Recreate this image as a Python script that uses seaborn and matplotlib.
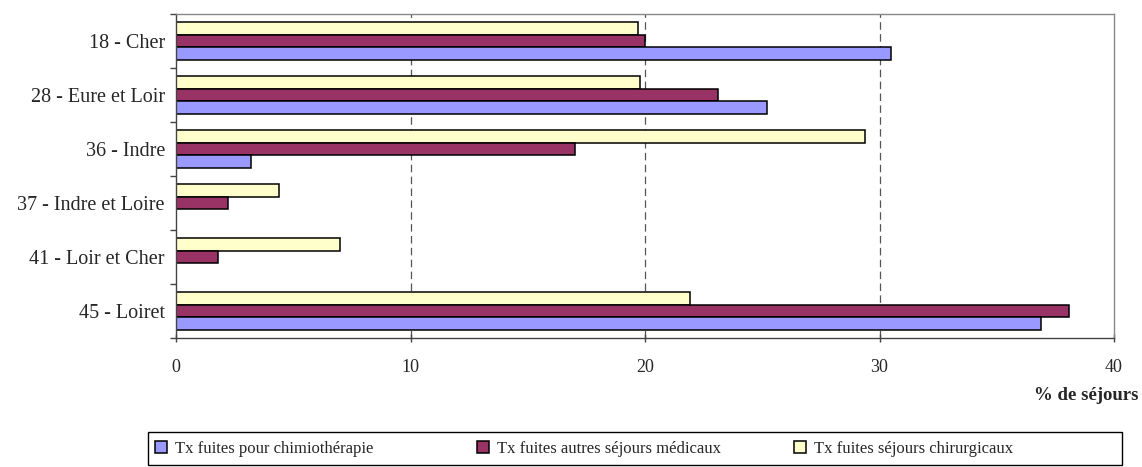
import pandas as pd
import matplotlib
matplotlib.use("Agg")
import matplotlib.pyplot as plt
from matplotlib.patches import Rectangle
import seaborn as sns

# Data
departements = ["18 - Cher", "28 - Eure et Loir", "36 - Indre",
                "37 - Indre et Loire", "41 - Loir et Cher", "45 - Loiret"]
chimio = [30.5, 25.2, 3.2, 0.0, 0.0, 36.9]
autres_medicaux = [20.0, 23.1, 17.0, 2.2, 1.8, 38.1]
chirurgicaux = [19.7, 19.8, 29.4, 4.4, 7.0, 21.9]

series_names = ["Tx fuites pour chimiothérapie",
                "Tx fuites autres séjours médicaux",
                "Tx fuites séjours chirurgicaux"]
colors = {series_names[0]: "#9999FF",
          series_names[1]: "#993366",
          series_names[2]: "#FFFFCC"}

df = pd.DataFrame({
    "dep": departements * 3,
    "serie": [series_names[0]] * 6 + [series_names[1]] * 6 + [series_names[2]] * 6,
    "val": chimio + autres_medicaux + chirurgicaux,
})

sns.set_style("white")
plt.rcParams["font.family"] = ["Liberation Serif", "DejaVu Serif"]

W, H = 1142, 467
fig = plt.figure(figsize=(W / 100, H / 100), dpi=100)
ax = fig.add_axes([176 / W, 1 - 338 / H, (1114 - 176) / W, (338 - 14) / H])

# first hue is drawn on top of each group -> chirurgicaux first
hue_order = [series_names[2], series_names[1], series_names[0]]
sns.barplot(data=df, y="dep", x="val", hue="serie", hue_order=hue_order,
            order=departements, palette=colors, orient="h", width=0.69,
            saturation=1, edgecolor="black", linewidth=1.1, ax=ax, legend=True)

ax.set_xlim(0, 40)
ax.set_ylim(len(departements) - 0.5, -0.5)
ax.set_xticks([0, 10, 20, 30, 40])
ax.set_xticklabels(["0", "10", "20", "30", "40"], fontsize=13)
ax.set_ylabel("")
ax.set_xlabel("")
ax.tick_params(axis="y", which="major", labelsize=14.5, length=0, pad=8)
ax.set_yticks([k - 0.5 for k in range(len(departements) + 1)], minor=True)
ax.tick_params(axis="y", which="minor", length=4, width=1, color="#444444",
               direction="out", left=True)
ax.tick_params(axis="x", length=6, width=1, color="#444444", direction="inout",
               bottom=True, pad=12)

for xv in [10, 20, 30]:
    ax.axvline(xv, color="#555555", linestyle=(0, (6, 3.5)), linewidth=0.9, zorder=0)

for side in ["top", "right"]:
    ax.spines[side].set_color("#888888")
for side in ["left", "bottom"]:
    ax.spines[side].set_color("#444444")
for s in ax.spines.values():
    s.set_linewidth(1.0)

fig.text(1138 / W, 1 - 396 / H, "% de séjours", ha="right", va="center",
         fontsize=13.5, fontweight="bold")

# legend: one box, three fixed columns
handles, labels = ax.get_legend_handles_labels()
ax.get_legend().remove()
fig.patches.append(Rectangle((148 / W, 1 - 465 / H), (1122 - 148) / W, 33 / H,
                             transform=fig.transFigure, fill=False,
                             edgecolor="black", linewidth=1.0))
col_x = [155, 477, 794]
for name, x0 in zip(series_names, col_x):
    h = handles[labels.index(name)]
    fig.legend([h], [name], loc="center left",
               bbox_to_anchor=(x0 / W, 1 - 449 / H), frameon=False, fontsize=12,
               handlelength=0.7, handleheight=0.7, handletextpad=0.5,
               borderpad=0, borderaxespad=0)

fig.savefig("out.png", dpi=100)
